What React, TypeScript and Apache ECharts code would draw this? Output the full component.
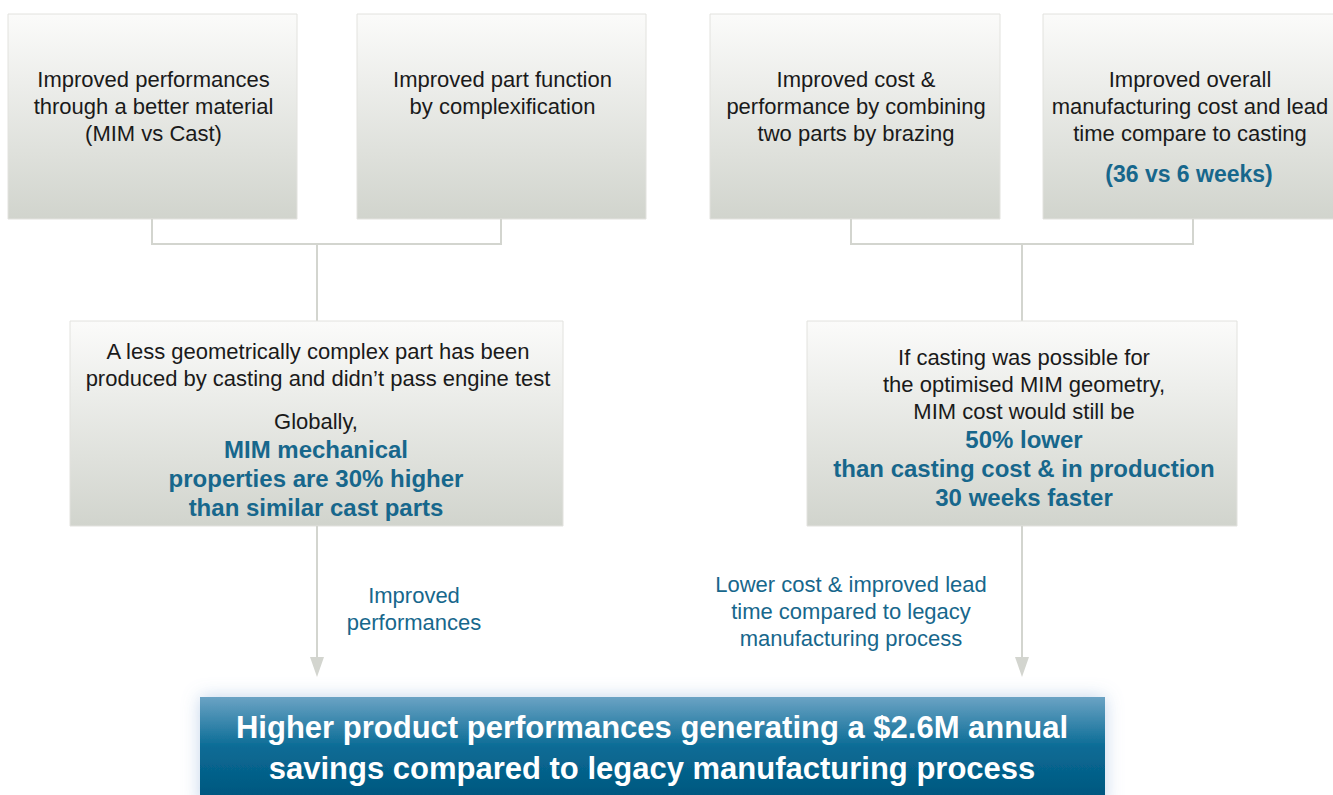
import React, { useEffect, useRef } from "react";
import * as echarts from "echarts";

const topBoxTexts: string[][] = [
  ["Improved performances", "through a better material", "(MIM vs Cast)"],
  ["Improved part function", "by complexification"],
  ["Improved cost &", "performance by combining", "two parts by brazing"],
  ["Improved overall", "manufacturing cost and lead", "time compare to casting"],
];
const topBoxHighlight: string[] = ["", "", "", "(36 vs 6 weeks)"];

const leftMidPlain: string[] = ["A less geometrically complex part has been", "produced by casting and didn\u2019t pass engine test"];
const leftMidPlain2: string[] = ["Globally,"];
const leftMidBold: string[] = ["MIM mechanical", "properties are 30% higher", "than similar cast parts"];

const rightMidPlain: string[] = ["If casting was possible for", "the optimised MIM geometry,", "MIM cost would still be"];
const rightMidBold: string[] = ["50% lower", "than casting cost & in production", "30 weeks faster"];

const leftArrowLabel: string[] = ["Improved", "performances"];
const rightArrowLabel: string[] = ["Lower cost & improved lead", "time compared to legacy", "manufacturing process"];

const bottomText: string[] = ["Higher product performances generating a $2.6M annual", "savings compared to legacy manufacturing process"];

const FONT = "'Liberation Sans', Arial, Helvetica, sans-serif";
const BLUE = "#17678c";
const DARK = "#1a1a1a";
const LINE = "#d3d5cf";

const boxFill = () =>
  new echarts.graphic.LinearGradient(0, 0, 0, 1, [
    { offset: 0, color: "#fbfbfa" },
    { offset: 1, color: "#d1d4cd" },
  ]);

export default function App() {
  const ref = useRef<HTMLDivElement>(null);
  useEffect(() => {
    if (!ref.current) return;
    const chart = echarts.init(ref.current, undefined, { renderer: "svg" });
    const els: any[] = [];

    const txt = (lines: string[], x: number, y: number, size: number, bold: boolean, color: string, lh: number) => {
      els.push({
        type: "text",
        x,
        y,
        z: 10,
        style: {
          text: lines.join("\n"),
          font: `${bold ? "bold " : ""}${size}px ${FONT}`,
          fill: color,
          align: "center",
          verticalAlign: "middle",
          lineHeight: lh,
        },
      });
    };

    const topBoxes = [
      { x: 8, w: 289 },
      { x: 357, w: 289 },
      { x: 710, w: 290 },
      { x: 1043, w: 292 },
    ];
    topBoxes.forEach((b, i) => {
      els.push({
        type: "rect",
        shape: { x: b.x, y: 14, width: b.w, height: 205 },
        style: { fill: boxFill(), stroke: "#e2e2de", lineWidth: 1 },
      });
      txt(topBoxTexts[i], b.x + b.w / 2 + 1, i === 1 ? 92.5 : 106, 22, false, DARK, 27);
      if (topBoxHighlight[i]) {
        txt([topBoxHighlight[i]], b.x + b.w / 2, 174, 23, true, BLUE, 27);
      }
    });

    // connectors
    const conn = (x1: number, x2: number, xm: number) => {
      els.push({
        type: "polyline",
        shape: { points: [[x1, 219], [x1, 244], [x2, 244], [x2, 219]] },
        style: { stroke: LINE, lineWidth: 2, fill: "none" },
      });
      els.push({
        type: "line",
        shape: { x1: xm, y1: 244, x2: xm, y2: 321 },
        style: { stroke: LINE, lineWidth: 2 },
      });
    };
    conn(152, 501, 317);
    conn(851, 1193, 1022);

    // middle boxes
    els.push({
      type: "rect",
      shape: { x: 70, y: 321, width: 493, height: 205 },
      style: { fill: boxFill(), stroke: "#e2e2de", lineWidth: 1 },
    });
    els.push({
      type: "rect",
      shape: { x: 807, y: 321, width: 430, height: 205 },
      style: { fill: boxFill(), stroke: "#e2e2de", lineWidth: 1 },
    });
    txt(leftMidPlain, 318, 364.5, 22, false, DARK, 27);
    txt(leftMidPlain2, 316, 421, 22, false, DARK, 27);
    txt(leftMidBold, 316, 478, 24, true, BLUE, 29);
    txt(rightMidPlain, 1024, 384, 22, false, DARK, 27);
    txt(rightMidBold, 1024, 468, 24, true, BLUE, 29);

    // arrows
    const arrow = (x: number) => {
      els.push({
        type: "line",
        shape: { x1: x, y1: 526, x2: x, y2: 660 },
        style: { stroke: LINE, lineWidth: 2 },
      });
      els.push({
        type: "polygon",
        shape: { points: [[x - 7, 657], [x + 7, 657], [x, 677]] },
        style: { fill: LINE },
      });
    };
    arrow(317);
    arrow(1022);

    txt(leftArrowLabel, 414, 608.5, 22, false, BLUE, 27);
    txt(rightArrowLabel, 851, 611, 22, false, BLUE, 27);

    // bottom box
    els.push({
      type: "rect",
      shape: { x: 200, y: 697, width: 905, height: 110 },
      style: {
        fill: new echarts.graphic.LinearGradient(0, 0, 0, 1, [
          { offset: 0, color: "#6ba3c4" },
          { offset: 0.45, color: "#0a6c96" },
          { offset: 1, color: "#00527a" },
        ]),
        shadowBlur: 18,
        shadowColor: "rgba(120,160,210,0.45)",
      },
    });
    txt(bottomText, 652, 747.5, 31, true, "#ffffff", 41);

    chart.setOption({
      animation: false,
      backgroundColor: "#ffffff",
      graphic: { elements: els },
    });
    return () => chart.dispose();
  }, []);
  return (
    <div
      ref={ref}
      style={{ position: "fixed", left: 0, top: 0, width: 1333, height: 795 }}
    />
  );
}
